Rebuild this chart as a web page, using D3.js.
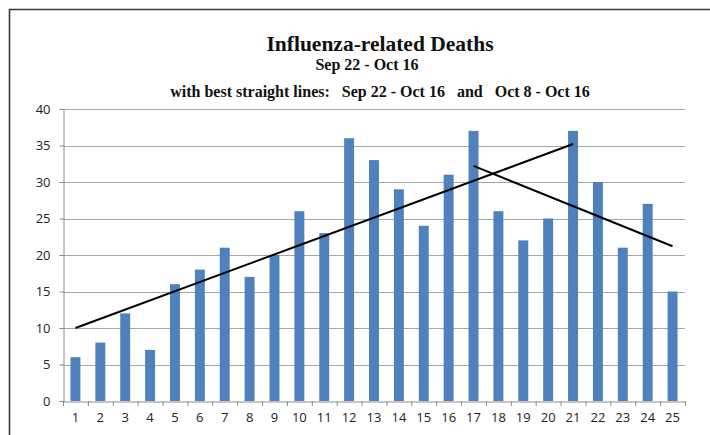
<!DOCTYPE html>
<html><head><meta charset="utf-8">
<script src="https://cdn.jsdelivr.net/npm/d3@7"></script>
<style>body{margin:0;background:#fff}</style>
</head><body><svg id="c" width="710" height="435"></svg>
<script>
const categories = d3.range(1, 26).map(String);
const deaths = [6,8,12,7,16,18,21,17,20,26,23,36,33,29,24,31,37,26,22,25,37,30,21,27,15];
const yTicks = [0,5,10,15,20,25,30,35,40];
const trendAll = [{x:"1", y:10.0},{x:"21", y:35.2}];
const trendLate = [{x:"17", y:32.2},{x:"25", y:21.2}];
const titleLines = ["Influenza-related Deaths","Sep 22 - Oct 16","with best straight lines:   Sep 22 - Oct 16   and   Oct 8 - Oct 16"];

const svg = d3.select("#c");
const m = {l:63, r:685, t:109, b:401};
const x = d3.scaleBand().domain(categories).range([m.l, m.r]).paddingInner(0.6).paddingOuter(0.3);
const xb = d3.scaleBand().domain(categories).range([m.l, m.r]);
const y = d3.scaleLinear().domain([0,40]).range([m.b, m.t]);

// frame
svg.append("path").attr("d",`M9.5,730 V9.5 H720`).attr("fill","none").attr("stroke","#3a3a3a").attr("stroke-width",1.6);

// gridlines
svg.append("g").selectAll("line").data(yTicks.slice(1)).join("line")
  .attr("x1",m.l).attr("x2",m.r).attr("y1",d=>Math.round(y(d))+0.5).attr("y2",d=>Math.round(y(d))+0.5)
  .attr("stroke","#a6a6a6").attr("stroke-width",1);

// y axis
const ya = svg.append("g").attr("transform",`translate(${m.l+0.5},0)`)
  .call(d3.axisLeft(y).tickValues(yTicks).tickSize(4).tickPadding(9));
ya.select(".domain").attr("stroke","#8c8c8c");
ya.selectAll(".tick line").attr("stroke","#8c8c8c");
ya.selectAll("text").attr("font-family","Open Sans, sans-serif").attr("font-size",13).attr("fill","#222");

// bars
svg.append("g").selectAll("rect").data(deaths).join("rect")
  .attr("x",(d,i)=>x(categories[i])).attr("width",x.bandwidth())
  .attr("y",d=>y(d)).attr("height",d=>y(0)-y(d)).attr("fill","#4f81bd");

// x axis
const xa = svg.append("g").attr("transform",`translate(0,${m.b+0.5})`)
  .call(d3.axisBottom(xb).tickSize(0).tickPadding(11));
xa.select(".domain").attr("stroke","#8c8c8c");
xa.selectAll("text").attr("font-family","Open Sans, sans-serif").attr("font-size",13).attr("fill","#222");
svg.append("g").selectAll("line").data(categories.concat(["end"])).join("line")
  .attr("x1",(d,i)=>m.l + i*xb.step()+0.5).attr("x2",(d,i)=>m.l + i*xb.step()+0.5)
  .attr("y1",m.b).attr("y2",m.b+5).attr("stroke","#8c8c8c");

// trend lines
const line = d3.line().x(d=>x(d.x)+x.bandwidth()/2).y(d=>y(d.y));
[trendAll, trendLate].forEach(t=>svg.append("path").attr("d",line(t)).attr("fill","none").attr("stroke","#000").attr("stroke-width",2));

// titles
const tf = "Liberation Serif, DejaVu Serif, serif";
svg.append("text").attr("x",380).attr("y",51).attr("text-anchor","middle").attr("font-family",tf).attr("font-weight","bold").attr("font-size",21.5).attr("fill","#111").text(titleLines[0]);
svg.append("text").attr("x",367).attr("y",70).attr("text-anchor","middle").attr("font-family",tf).attr("font-weight","bold").attr("font-size",16).attr("fill","#111").text(titleLines[1]);
svg.append("text").attr("x",380).attr("y",97).attr("text-anchor","middle").attr("font-family",tf).attr("font-weight","bold").attr("font-size",16).attr("fill","#111").attr("xml:space","preserve").style("white-space","pre").text(titleLines[2]);
</script></body></html>
